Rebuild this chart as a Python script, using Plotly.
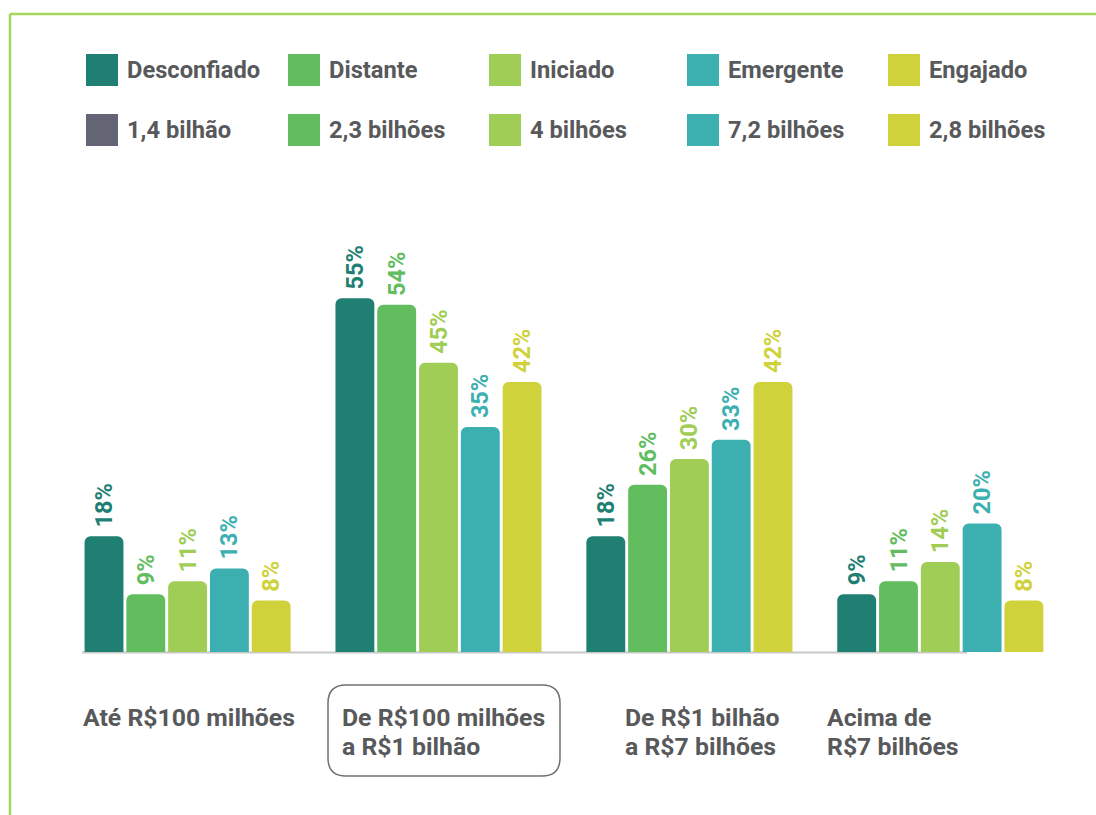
import plotly.graph_objects as go

# ---- data ----
categories = ["Até R$100 milhões", "De R$100 milhões<br>a R$1 bilhão",
              "De R$1 bilhão<br>a R$7 bilhões", "Acima de<br>R$7 bilhões"]
series_names = ["Desconfiado", "Distante", "Iniciado", "Emergente", "Engajado"]
desconfiado = [18, 55, 18, 9]
distante = [9, 54, 26, 11]
iniciado = [11, 45, 30, 14]
emergente = [13, 35, 33, 20]
engajado = [8, 42, 42, 8]
populacao = ["1,4 bilhão", "2,3 bilhões", "4 bilhões", "7,2 bilhões", "2,8 bilhões"]

series_values = [desconfiado, distante, iniciado, emergente, engajado]
colors = ["#1f7f72", "#62bd5f", "#a0cd55", "#3cb0b0", "#cfd23a"]
pop_colors = ["#636574", "#62bd5f", "#a0cd55", "#3cb0b0", "#cfd23a"]
TEXT = "#58595b"
FONT = "Roboto"

W, H = 1096, 815
def px(x):
    return x / W
def py(y):
    return 1 - y / H

fig = go.Figure()
for name, vals, c in zip(series_names, series_values, colors):
    fig.add_trace(go.Bar(
        x=list(range(len(categories))), y=vals, name=name,
        marker=dict(color=c, line=dict(width=0), cornerradius=6),
        text=["\u00a0" + f"{v}%" for v in vals],
        textposition="outside", textangle=-90, constraintext="none",
        textfont=dict(family=FONT, size=23.5, color=c, weight="bold"),
        cliponaxis=False, showlegend=False, hoverinfo="skip",
    ))

shapes = []
annotations = []

# frame lines
shapes.append(dict(type="line", xref="paper", yref="paper", x0=px(10), x1=px(1096),
                   y0=py(14), y1=py(14), line=dict(color="#a3d65c", width=2.5)))
shapes.append(dict(type="line", xref="paper", yref="paper", x0=px(10), x1=px(10),
                   y0=py(14), y1=py(815), line=dict(color="#a3d65c", width=2.5)))
# baseline
shapes.append(dict(type="line", xref="paper", yref="paper", x0=px(82), x1=px(967),
                   y0=py(652.5), y1=py(652.5), line=dict(color="#c8c8c8", width=2),
                   layer="below"))

# legend
col_x = [86, 288, 489, 687, 888]
rows = [(70, series_names, colors), (130, populacao, pop_colors)]
for yc, labels, cols in rows:
    for x0, lab, c in zip(col_x, labels, cols):
        shapes.append(dict(type="rect", xref="paper", yref="paper",
                           x0=px(x0), x1=px(x0 + 32), y0=py(yc - 16), y1=py(yc + 16),
                           fillcolor=c, line=dict(width=0)))
        annotations.append(dict(xref="paper", yref="paper", x=px(x0 + 39), y=py(yc),
                                xanchor="left", yanchor="middle", showarrow=False,
                                text=lab, font=dict(family=FONT, size=23.7, color=TEXT, weight="bold")))

# category labels (one annotation per line)
cat_x = [83, 342, 625, 827]
line_y = [717, 746]
for x0, lab in zip(cat_x, categories):
    for ly, part in zip(line_y, lab.split("<br>")):
        annotations.append(dict(xref="paper", yref="paper", x=px(x0 - 2), y=py(ly),
                                xanchor="left", yanchor="middle", align="left", showarrow=False,
                                text=part, font=dict(family=FONT, size=24.8, color=TEXT, weight="bold")))

# rounded box around second category
bx0, bx1, by0, by1, r = 328, 560, 685, 776, 18
def P(x, y):
    return f"{px(x)},{py(y)}"
path = (f"M {P(bx0 + r, by0)} L {P(bx1 - r, by0)} Q {P(bx1, by0)} {P(bx1, by0 + r)} "
        f"L {P(bx1, by1 - r)} Q {P(bx1, by1)} {P(bx1 - r, by1)} "
        f"L {P(bx0 + r, by1)} Q {P(bx0, by1)} {P(bx0, by1 - r)} "
        f"L {P(bx0, by0 + r)} Q {P(bx0, by0)} {P(bx0 + r, by0)} Z")
shapes.append(dict(type="path", xref="paper", yref="paper", path=path,
                   line=dict(color="#707070", width=1.5)))

slot = 250.9
x_first = 187.6
fig.update_layout(
    width=W, height=H, autosize=False,
    margin=dict(l=0, r=0, t=0, b=0, pad=0),
    paper_bgcolor="white", plot_bgcolor="rgba(0,0,0,0)",
    barmode="group", bargap=0.167, bargroupgap=0.07,
    xaxis=dict(range=[-x_first / slot, (W - x_first) / slot], domain=[0, 1],
               showgrid=False, zeroline=False, showticklabels=False, showline=False,
               fixedrange=True),
    yaxis=dict(range=[0, 652 / 6.43], domain=[1 - 652 / H, 1],
               showgrid=False, zeroline=False, showticklabels=False, showline=False,
               fixedrange=True),
    shapes=shapes, annotations=annotations,
    uniformtext=dict(mode=False),
)

fig.write_html("out.html")
